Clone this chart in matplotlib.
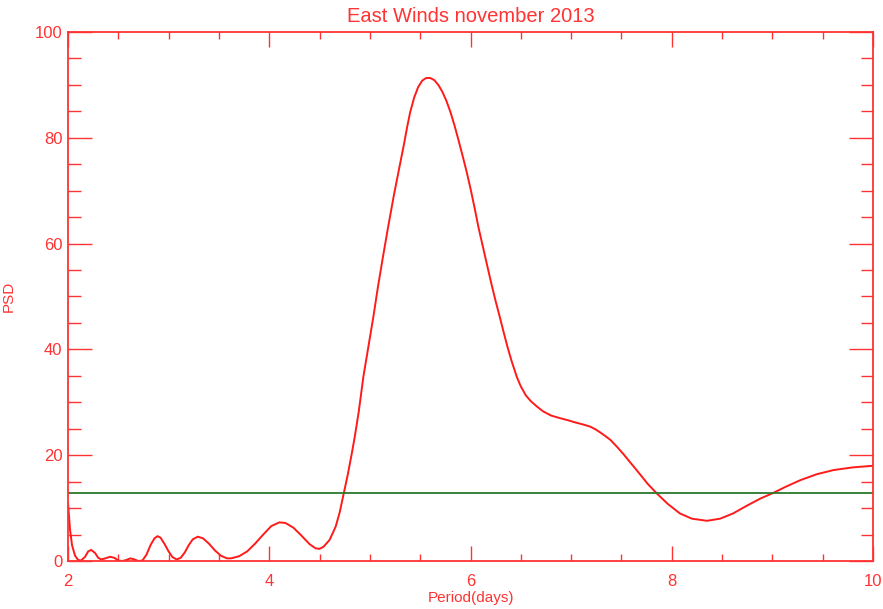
"""Periodogram of east winds, IDL-style red frame with inward ticks."""

import matplotlib

matplotlib.use("Agg")

import matplotlib.pyplot as plt  # noqa: E402
from matplotlib.ticker import MultipleLocator  # noqa: E402

# period (days) and power spectral density
period = [
    2.00, 2.02, 2.04, 2.07, 2.10, 2.13, 2.17, 2.20, 2.23, 2.27,
    2.30, 2.33, 2.37, 2.42, 2.46, 2.50, 2.54, 2.58, 2.62, 2.66,
    2.70, 2.74, 2.78, 2.82, 2.86, 2.89, 2.92, 2.96, 3.00, 3.04,
    3.08, 3.12, 3.16, 3.20, 3.24, 3.29, 3.34, 3.40, 3.46, 3.52,
    3.58, 3.62, 3.70, 3.78, 3.86, 3.94, 4.02, 4.10, 4.16, 4.24,
    4.32, 4.40, 4.46, 4.50, 4.54, 4.60, 4.66, 4.70, 4.74, 4.78,
    4.82, 4.85, 4.89, 4.935, 4.985, 5.035, 5.08, 5.13, 5.18, 5.24,
    5.30, 5.34, 5.37, 5.40, 5.44, 5.48, 5.52, 5.56, 5.60, 5.64,
    5.68, 5.72, 5.76, 5.80, 5.84, 5.88, 5.92, 5.96, 6.00, 6.04,
    6.08, 6.13, 6.17, 6.21, 6.25, 6.29, 6.33, 6.37, 6.41, 6.46,
    6.50, 6.55, 6.60, 6.66, 6.72, 6.80, 6.89, 6.97, 7.04, 7.12,
    7.19, 7.25, 7.32, 7.39, 7.46, 7.52, 7.58, 7.65, 7.76, 7.85,
    7.96, 8.08, 8.20, 8.35, 8.48, 8.61, 8.75, 8.88, 9.00, 9.14,
    9.28, 9.44, 9.61, 9.80, 10.00,
]
psd = [
    11.0, 6.0, 3.0, 1.0, 0.2, 0.1, 0.8, 1.8, 2.1, 1.5,
    0.6, 0.3, 0.5, 0.8, 0.6, 0.1, 0.0, 0.2, 0.5, 0.3,
    0.0, 0.1, 1.2, 3.0, 4.3, 4.7, 4.4, 3.2, 1.8, 0.7,
    0.3, 0.6, 1.6, 3.0, 4.1, 4.6, 4.3, 3.3, 2.0, 1.0,
    0.5, 0.5, 0.9, 1.8, 3.3, 5.0, 6.6, 7.3, 7.2, 6.3,
    4.8, 3.2, 2.4, 2.3, 2.7, 4.0, 6.5, 9.2, 12.8, 16.3,
    20.3, 23.5, 28.3, 34.8, 40.5, 46.2, 51.8, 57.5, 63.0, 69.3,
    75.0, 78.9, 82.0, 84.8, 87.6, 89.6, 90.8, 91.3, 91.3, 90.9,
    90.0, 88.7, 87.0, 84.9, 82.4, 79.6, 76.7, 73.7, 70.4, 66.8,
    63.0, 58.8, 55.5, 52.2, 49.1, 46.2, 43.2, 40.3, 37.7, 34.8,
    33.0, 31.3, 30.2, 29.2, 28.3, 27.5, 27.0, 26.6, 26.2, 25.8,
    25.4, 24.8, 23.9, 22.9, 21.5, 20.2, 18.8, 17.2, 14.6, 12.8,
    10.8, 9.0, 8.0, 7.6, 8.0, 9.0, 10.5, 11.8, 12.8, 14.1,
    15.3, 16.4, 17.2, 17.7, 18.0,
]
significance = 12.8

RED = "#ff3333"

fig = plt.figure(figsize=(8.83, 6.09), dpi=100)
ax = fig.add_axes([0.077, 0.0788, 0.9117, 0.8687])

ax.plot(period, psd, color="#ff1a1a", linewidth=1.4)
ax.axhline(significance, color="#2a7a2a", linewidth=1.3)

ax.set_xlim(2, 10)
ax.set_ylim(0, 100)

ax.xaxis.set_major_locator(MultipleLocator(2))
ax.xaxis.set_minor_locator(MultipleLocator(0.5))
ax.yaxis.set_major_locator(MultipleLocator(20))
ax.yaxis.set_minor_locator(MultipleLocator(5))

for s in ax.spines.values():
    s.set_color(RED)
    s.set_linewidth(1.3)

ax.tick_params(axis="both", which="both", direction="in", colors=RED,
               top=True, right=True, width=1.0, labelsize=12)
ax.tick_params(axis="x", which="major", length=11, pad=9)
ax.tick_params(axis="x", which="minor", length=5)
ax.tick_params(axis="y", which="major", length=17, pad=4)
ax.tick_params(axis="y", which="minor", length=9)

for lbl in ax.get_xticklabels() + ax.get_yticklabels():
    lbl.set_fontfamily("Liberation Sans")

ax.set_title("East Winds november 2013", color=RED, fontsize=14.5,
             family="Liberation Sans", pad=7)
ax.set_xlabel("Period(days)", color=RED, fontsize=11,
              family="Liberation Sans", labelpad=2)
ax.set_ylabel("PSD", color=RED, fontsize=11, family="Liberation Sans")
ax.yaxis.set_label_coords(-0.065, 0.5)

fig.savefig("out.png", dpi=100)
plt.close(fig)
